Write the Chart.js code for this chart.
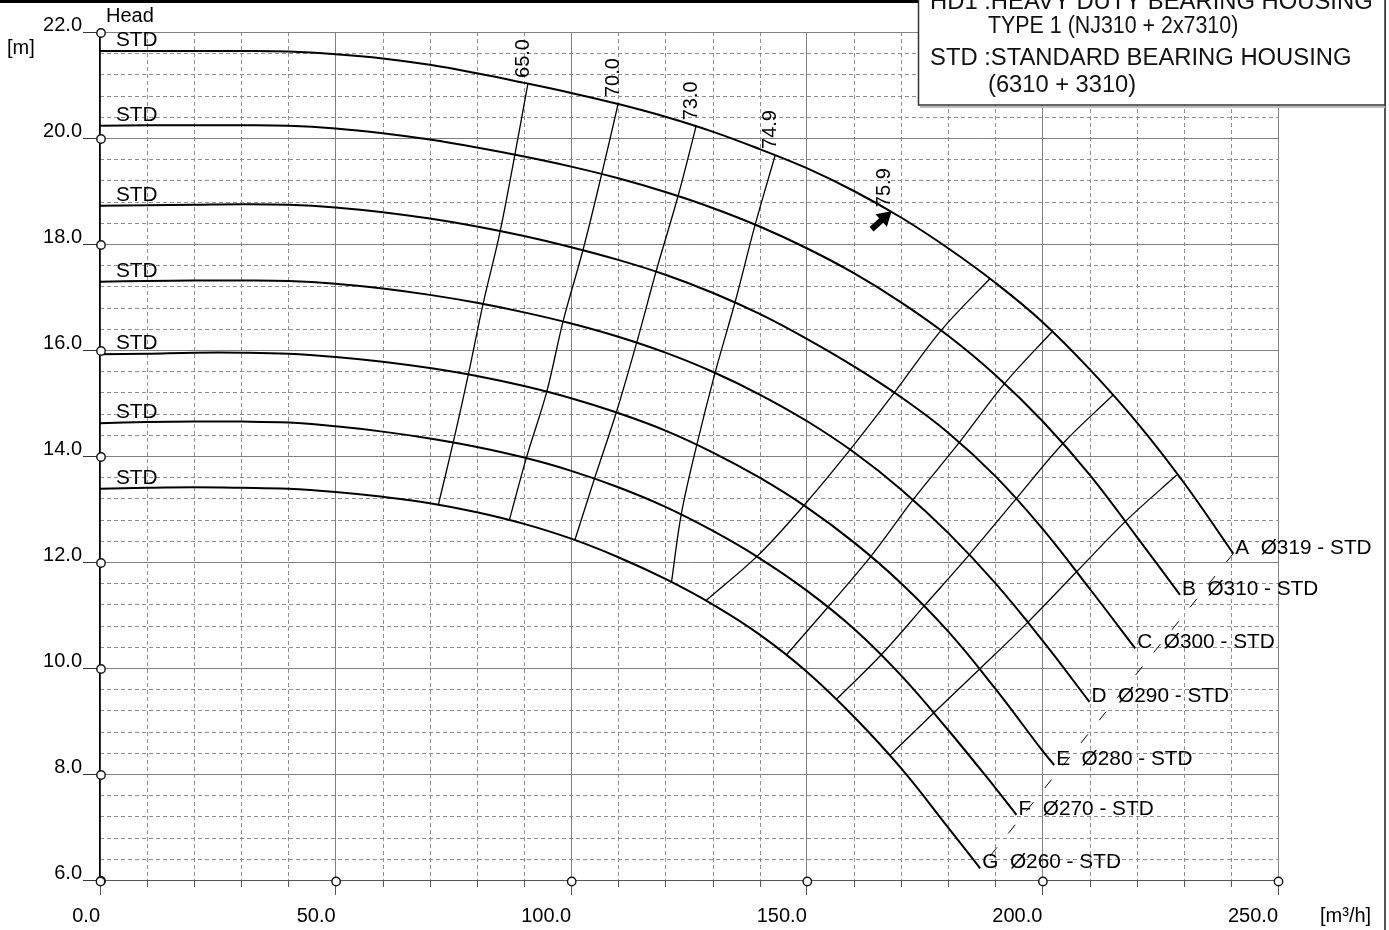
<!DOCTYPE html>
<html><head><meta charset="utf-8">
<script src="https://cdn.jsdelivr.net/npm/chart.js@4.4.1/dist/chart.umd.min.js"></script>
<style>html,body{margin:0;padding:0;background:#fff;overflow:hidden;} #wrap{width:1389px;height:930px;}</style>
</head><body><div id="wrap"><canvas id="c" width="1389" height="930"></canvas></div>
<script>
const FONT = '"Liberation Sans", Arial, Helvetica, sans-serif';

// axis ticks
const xTicks = [0, 50, 100, 150, 200, 250];
const yTicks = [6, 8, 10, 12, 14, 16, 18, 20, 22];

// impellers
const curveNames = ['A', 'B', 'C', 'D', 'E', 'F', 'G'];
const diameters = [319, 310, 300, 290, 280, 270, 260];
const bearing = 'STD';

// Q-H curves (flow m3/h, head m)
const qA = [0,10,20,30,40,50,60,70,80,90,100,110,120,130,140,150,160,170,180,190,200,210,220,230,240.5];
const hA = [21.64,21.64,21.64,21.64,21.63,21.58,21.5,21.38,21.22,21.04,20.85,20.64,20.4,20.12,19.79,19.43,19.0,18.5,17.92,17.27,16.53,15.64,14.64,13.5,12.16];
const qB = [0,10,20,30,40,50,60,70,80,90,100,110,120,130,140,150,160,170,180,190,200,210,220,229.2];
const hB = [20.23,20.24,20.24,20.24,20.23,20.18,20.09,19.97,19.82,19.65,19.46,19.24,18.98,18.68,18.33,17.92,17.45,16.9,16.27,15.53,14.66,13.65,12.48,11.38];
const qC = [0,10,20,30,40,50,60,70,80,90,100,110,120,130,140,150,160,170,180,190,200,210,219.7];
const hC = [18.72,18.73,18.74,18.75,18.74,18.69,18.6,18.48,18.33,18.15,17.94,17.7,17.42,17.08,16.68,16.21,15.69,15.11,14.44,13.62,12.63,11.5,10.37];
const qD = [0,10,20,30,40,50,60,70,80,90,100,110,120,130,140,150,160,170,180,190,200,210];
const hD = [17.29,17.3,17.31,17.31,17.3,17.25,17.16,17.04,16.89,16.71,16.5,16.25,15.95,15.59,15.16,14.66,14.07,13.37,12.55,11.6,10.52,9.36];
const qE = [0,10,20,30,40,50,60,70,80,90,100,110,120,130,140,150,160,170,180,190,200,202.5];
const hE = [15.92,15.93,15.95,15.95,15.93,15.87,15.78,15.66,15.51,15.32,15.09,14.81,14.48,14.07,13.59,13.03,12.37,11.6,10.69,9.61,8.44,8.17];
const qF = [0,10,20,30,40,50,60,70,80,90,100,110,120,130,140,150,160,170,180,190,194.5];
const hF = [14.62,14.64,14.65,14.65,14.63,14.56,14.46,14.33,14.17,13.97,13.72,13.41,13.04,12.59,12.07,11.46,10.74,9.86,8.83,7.74,7.23];
const qG = [0,10,20,30,40,50,60,70,80,90,100,110,120,130,140,150,160,170,180,186.8];
const hG = [13.38,13.4,13.41,13.4,13.38,13.32,13.23,13.11,12.94,12.72,12.44,12.09,11.68,11.2,10.63,9.93,9.08,8.11,6.99,6.22];

// iso-efficiency lines, left branch (points on A..G)
const effLabels = ['65.0', '70.0', '73.0', '74.9'];
const eff65Q = [90.8,88.1,84.9,81.3,78.2,75.0,71.8];
const eff65H = [21.02,19.71,18.23,16.87,15.55,14.27,13.08];
const eff70Q = [110,106.5,102.6,98.3,94.8,90.5,86.9];
const eff70H = [20.66,19.33,17.92,16.55,15.21,13.97,12.8];
const eff73Q = [126.5,122.7,118.1,113.9,109.6,105,100.8];
const eff73H = [20.22,18.91,17.51,16.14,14.83,13.59,12.42];
const eff749Q = [143.3,139,134.8,130.5,126.6,123.4,121.3];
const eff749H = [19.68,18.35,16.91,15.56,14.19,12.92,11.63];

// iso-efficiency lines, right branch (points on G..A)
const r1Q = [128.7,139.7,149.6,159.2,168.7,178.6,188.9];
const r1H = [11.28,12.13,13.09,14.12,15.21,16.38,17.35];
const r2Q = [145.7,154.6,163.8,172.6,182.5,192,202];
const r2H = [10.25,11.16,12.13,13.18,14.27,15.37,16.34];
const r3Q = [156.3,165.9,175.1,184.6,194.5,204.4,215];
const r3H = [9.41,10.26,11.19,12.15,13.2,14.24,15.15];
const r4Q = [167.7,176.8,186.8,197,207.3,217.9,228.5];
const r4H = [8.36,9.14,9.99,10.87,11.82,12.79,13.64];

// end-of-curve dashed line
const endQ = [240.5, 186.8];
const endH = [12.16, 6.22];

// best efficiency point
const bepQ = 168, bepH = 18.62, bepLabel = '75.9';

const legendLines = [
  'HD1 :HEAVY DUTY BEARING HOUSING',
  'TYPE 1 (NJ310 + 2x7310)',
  'STD :STANDARD BEARING HOUSING',
  '(6310 + 3310)'
];

const pts = (q, h) => q.map((v, i) => ({x: v, y: h[i]}));
const curvesQ = [qA,qB,qC,qD,qE,qF,qG];
const curvesH = [hA,hB,hC,hD,hE,hF,hG];
const effQ = [eff65Q, eff70Q, eff73Q, eff749Q];
const effH = [eff65H, eff70H, eff73H, eff749H];
const rightQ = [r1Q, r2Q, r3Q, r4Q];
const rightH = [r1H, r2H, r3H, r4H];

const datasets = [];
curvesQ.forEach((q, i) => datasets.push({
  label: curveNames[i], data: pts(q, curvesH[i]), borderColor: '#000', borderWidth: 2,
  pointRadius: 0, tension: 0.4, fill: false
}));
effQ.forEach((q, i) => datasets.push({
  label: 'eff' + effLabels[i], data: pts(q, effH[i]), borderColor: '#000', borderWidth: 1.3,
  pointRadius: 0, tension: 0.35, fill: false
}));
rightQ.forEach((q, i) => datasets.push({
  label: 'effR' + i, data: pts(q, rightH[i]), borderColor: '#000', borderWidth: 1.3,
  pointRadius: 0, tension: 0.35, fill: false
}));
datasets.push({
  label: 'end', data: pts(endQ, endH), borderColor: '#000', borderWidth: 1,
  borderDash: [11, 18], pointRadius: 0, tension: 0, fill: false
});

function txt(ctx, s, x, y, font, sx, align) {
  ctx.save();
  ctx.translate(x, y);
  ctx.scale(sx || 1, 1);
  ctx.font = font;
  ctx.textAlign = align || 'left';
  ctx.textBaseline = 'alphabetic';
  ctx.fillText(s, 0, 0);
  ctx.restore();
}

const deco = {
  id: 'deco',
  beforeDraw(chart) {
    const {ctx, chartArea: a, scales: {x, y}} = chart;
    ctx.save();
    ctx.fillStyle = '#fff';
    ctx.fillRect(0, 0, chart.width, chart.height);
    ctx.strokeStyle = '#8e8e8e';
    ctx.lineWidth = 1;
    ctx.setLineDash([4, 3]);
    for (let v = 10; v < 250; v += 10) {
      if (v % 50 === 0) continue;
      const px = Math.round(x.getPixelForValue(v)) + 0.5;
      ctx.beginPath(); ctx.moveTo(px, a.top); ctx.lineTo(px, a.bottom); ctx.stroke();
    }
    for (let i = 1; i < 40; i++) {
      if (i % 5 === 0) continue;
      const py = Math.round(y.getPixelForValue(6 + 0.4 * i)) + 0.5;
      ctx.beginPath(); ctx.moveTo(a.left, py); ctx.lineTo(a.right, py); ctx.stroke();
    }
    ctx.setLineDash([]);
    ctx.strokeStyle = '#555';
    for (let v = 10; v < 250; v += 10) {
      if (v % 50 === 0) continue;
      const px = Math.round(x.getPixelForValue(v)) + 0.5;
      ctx.beginPath(); ctx.moveTo(px, a.bottom); ctx.lineTo(px, a.bottom + 7); ctx.stroke();
    }
    ctx.restore();
  },
  afterDraw(chart) {
    const {ctx, chartArea: a, scales: {x, y}} = chart;
    const F = '20px ' + FONT;
    ctx.save();
    // axis circles
    ctx.strokeStyle = '#111'; ctx.lineWidth = 1.4;
    yTicks.forEach(v => {
      ctx.beginPath(); ctx.arc(a.left + 1, y.getPixelForValue(v) + 1, 4.2, 0, Math.PI * 2);
      ctx.fillStyle = '#fff'; ctx.fill(); ctx.stroke();
    });
    xTicks.forEach(v => {
      ctx.beginPath(); ctx.arc(x.getPixelForValue(v) + 0.5, a.bottom + 1.5, 4.2, 0, Math.PI * 2);
      ctx.fillStyle = '#fff'; ctx.fill(); ctx.stroke();
    });
    ctx.fillStyle = '#000';
    // axis titles
    txt(ctx, 'Head', 106, 22, F);
    txt(ctx, '[m]', 7, 54, F);
    txt(ctx, '[m\u00b3/h]', 1320, 922, F);
    // STD at curve start, names at curve end
    curvesQ.forEach((q, i) => {
      const h = curvesH[i];
      const x0 = x.getPixelForValue(q[0]), y0 = y.getPixelForValue(h[0]);
      txt(ctx, bearing, x0 + 16, y0 - 5, F, 1.04);
      const n = q.length - 1;
      const x1 = x.getPixelForValue(q[n]), y1 = y.getPixelForValue(h[n]);
      txt(ctx, curveNames[i] + '  \u00d8' + diameters[i] + ' - ' + bearing, x1 + 2, y1, F, 1.04);
    });
    // efficiency labels (rotated)
    const rot = (s, px, py) => {
      ctx.save(); ctx.translate(px, py); ctx.rotate(-Math.PI / 2);
      ctx.font = F; ctx.textAlign = 'left'; ctx.textBaseline = 'alphabetic';
      ctx.fillText(s, 0, 0); ctx.restore();
    };
    effQ.forEach((q, i) => {
      rot(effLabels[i], x.getPixelForValue(q[0]) + 1, y.getPixelForValue(effH[i][0]) - 6);
    });
    // BEP arrow
    const tx = x.getPixelForValue(bepQ), ty = y.getPixelForValue(bepH);
    rot(bepLabel, tx - 2, ty - 4);
    const ang = -42 * Math.PI / 180;
    const dx = Math.cos(ang), dy = Math.sin(ang);
    const nx = -dy, ny = dx;
    ctx.strokeStyle = '#000'; ctx.fillStyle = '#000';
    ctx.lineWidth = 6; ctx.lineCap = 'butt';
    ctx.beginPath(); ctx.moveTo(tx - 27 * dx, ty - 27 * dy); ctx.lineTo(tx - 10 * dx, ty - 10 * dy); ctx.stroke();
    ctx.beginPath();
    ctx.moveTo(tx, ty);
    ctx.lineTo(tx - 14 * dx + 8.5 * nx, ty - 14 * dy + 8.5 * ny);
    ctx.lineTo(tx - 14 * dx - 8.5 * nx, ty - 14 * dy - 8.5 * ny);
    ctx.closePath(); ctx.fill();
    // frame
    ctx.fillStyle = '#000';
    ctx.fillRect(0, 0, 918, 3);
    ctx.fillStyle = '#555';
    ctx.fillRect(1384, 0, 2, 930);
    // legend box
    ctx.fillStyle = '#fff';
    ctx.fillRect(918, -2, 467, 107);
    ctx.strokeStyle = '#bdbdbd'; ctx.lineWidth = 2;
    ctx.beginPath(); ctx.moveTo(920, 107); ctx.lineTo(1385, 107); ctx.stroke();
    ctx.strokeStyle = '#333'; ctx.lineWidth = 1.5;
    ctx.strokeRect(918.5, -2, 466.5, 107);
    ctx.fillStyle = '#111';
    const LF = '23px ' + FONT;
    txt(ctx, legendLines[0], 930, 9, LF, 1.035);
    txt(ctx, legendLines[1], 988, 33, LF, 0.93);
    txt(ctx, legendLines[2], 930, 65, LF, 1.035);
    txt(ctx, legendLines[3], 988, 92, LF, 1.03);
    ctx.restore();
  }
};

new Chart(document.getElementById('c'), {
  type: 'line',
  data: {datasets},
  options: {
    responsive: false,
    animation: false,
    events: [],
    layout: {padding: {left: 0, right: 111, top: 32, bottom: 0}},
    plugins: {legend: {display: false}, tooltip: {enabled: false}},
    scales: {
      x: {
        type: 'linear', min: 0, max: 250,
        afterBuildTicks: s => { s.ticks = xTicks.map(v => ({value: v})); },
        afterFit: s => { s.height = 50; },
        ticks: {
          callback: v => Number(v).toFixed(1), align: 'end', padding: 9, maxRotation: 0, autoSkip: false,
          color: '#000', font: {family: FONT, size: 20}
        },
        grid: {color: '#808080', lineWidth: 1, tickLength: 15, tickColor: '#555', drawTicks: true},
        border: {display: true, color: '#555', width: 1}
      },
      y: {
        type: 'linear', min: 6, max: 22,
        afterBuildTicks: s => { s.ticks = yTicks.map(v => ({value: v})); },
        afterFit: s => { s.width = 100; },
        ticks: {
          callback: v => Number(v).toFixed(1), padding: 1, labelOffset: -7, autoSkip: false,
          color: '#000', font: {family: FONT, size: 20}
        },
        grid: {color: '#808080', lineWidth: 1, tickLength: 17, tickColor: '#333', drawTicks: true},
        border: {display: true, color: '#000', width: 1.6}
      }
    }
  },
  plugins: [deco]
});
</script>
</body></html>
